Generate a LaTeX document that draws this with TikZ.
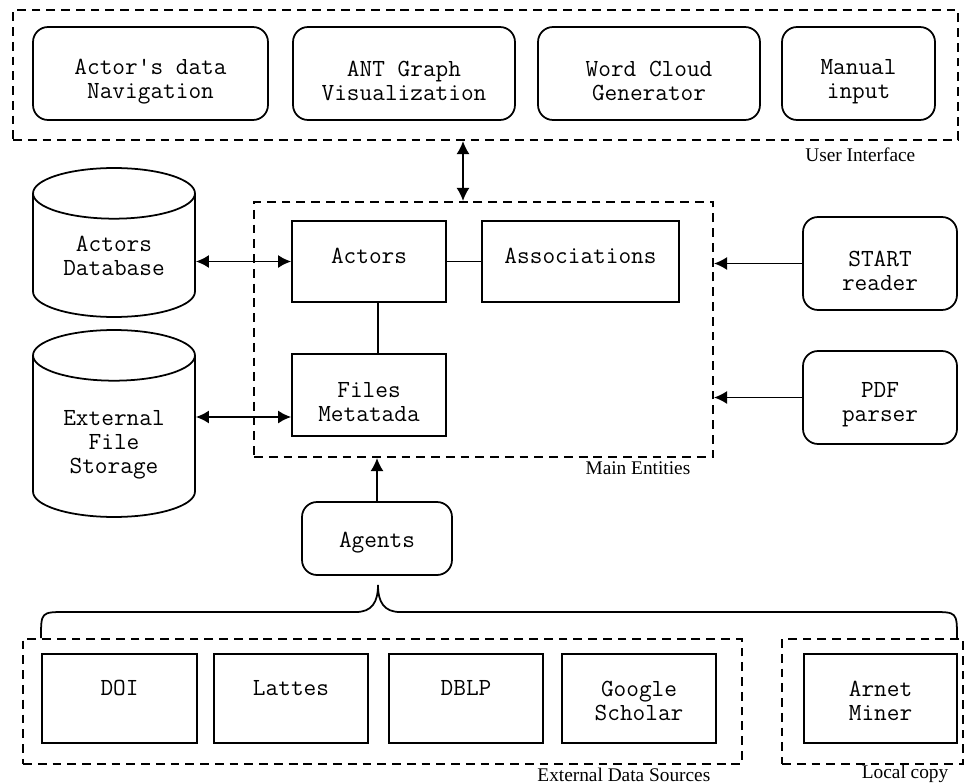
\documentclass[tikz,border=0pt]{standalone}
\usepackage{fontspec}
\setmainfont{Liberation Serif}
\usetikzlibrary{shapes.geometric,arrows.meta}

\begin{document}
\begin{tikzpicture}[x=0.02cm, y=-0.02cm, line width=1pt, >={Latex[length=2.6mm,width=2.6mm]},
    sqbox/.style={draw, font=\ttfamily\fontsize{14}{13.7}\selectfont, align=center, inner sep=0pt},
    rbox/.style={sqbox, rounded corners=0.3cm},
    low/.style={text height=#1},
    dbase/.style={sqbox, cylinder, shape border rotate=90, aspect=0.5, anchor=shape center},
    grp/.style={draw, dash pattern=on 5pt off 3.4pt, line width=1.2pt, inner sep=0pt},
    lbl/.style={font=\fontsize{11}{12}\selectfont, anchor=east}]
        \useasboundingbox (0,0) rectangle (964,784);

        % groups
        \node[grp, minimum width=18.9cm, minimum height=2.6cm] (ui) at (485.5, 75) {};
        \node[grp, minimum width=9.18cm, minimum height=5.1cm] (main) at (483.5, 329.5) {};
        \node[grp, minimum width=14.38cm, minimum height=2.5cm] (ext) at (382.5, 701.5) {};
        \node[grp, minimum width=3.62cm, minimum height=2.5cm] (loc) at (872.5, 701.5) {};
        \node[lbl] at (922, 155) {User Interface};
        \node[lbl] at (697, 468) {Main Entities};
        \node[lbl] at (717, 775) {External Data Sources};
        \node[lbl] at (955, 774) {Local copy};

        % user interface
        \node[rbox, low=1.1cm, minimum width=4.7cm, minimum height=1.86cm] (nav) at (150.5, 73.5) {Actor's data\\Navigation};
        \node[rbox, low=1.1cm, minimum width=4.44cm, minimum height=1.86cm] (ant) at (404, 73.5) {ANT Graph\\Visualization};
        \node[rbox, low=1.1cm, minimum width=4.44cm, minimum height=1.86cm] (cloud) at (649, 73.5) {Word Cloud\\Generator};
        \node[rbox, low=1.1cm, minimum width=3.06cm, minimum height=1.86cm] (manual) at (858.5, 73.5) {Manual\\input};

        % main entities
        \node[sqbox, minimum width=3.08cm, minimum height=1.62cm, text depth=0.22cm] (actors) at (369, 261.5) {Actors};
        \node[sqbox, minimum width=3.94cm, minimum height=1.62cm, text depth=0.22cm] (assoc) at (580.5, 261.5) {Associations};
        \node[sqbox, low=1.05cm, minimum width=3.08cm, minimum height=1.64cm] (files) at (369, 395) {Files\\Metatada};

        % storage
        \node[dbase, minimum width=3.24cm, minimum height=2.98cm] (db) at (114, 242.5) {Actors\\Database};
        \node[dbase, low=1.58cm, minimum width=3.24cm, minimum height=3.74cm] (store) at (114, 423.5) {External\\File\\Storage};

        % readers
        \node[rbox, low=1.08cm, minimum width=3.08cm, minimum height=1.86cm] (start) at (880, 263.5) {START\\reader};
        \node[rbox, low=1.08cm, minimum width=3.08cm, minimum height=1.86cm] (pdf) at (880, 397.5) {PDF\\parser};
        \node[rbox, low=0.47cm, minimum width=3.0cm, minimum height=1.46cm] (agents) at (377, 538.5) {Agents};

        % sources
        \node[sqbox, minimum width=3.1cm, minimum height=1.78cm, text depth=0.42cm] (doi) at (119.5, 698.5) {DOI};
        \node[sqbox, minimum width=3.08cm, minimum height=1.78cm, text depth=0.42cm] (lattes) at (291, 698.5) {Lattes};
        \node[sqbox, minimum width=3.08cm, minimum height=1.78cm, text depth=0.42cm] (dblp) at (466, 698.5) {DBLP};
        \node[sqbox, low=0.88cm, minimum width=3.08cm, minimum height=1.78cm] (google) at (639, 698.5) {Google\\Scholar};
        \node[sqbox, low=0.88cm, minimum width=3.06cm, minimum height=1.78cm] (arnet) at (880.5, 698.5) {Arnet\\Miner};

        \draw[<->] (ui.south -| 463,0) -- (main.north -| 463,0);
        \draw[<->] (db.east |- actors.west) -- (actors.west);
        \draw[<->] (store.east |- 0,417) -- (files.west |- 0,417);
        \draw (actors) -- (assoc);
        \draw ([xshift=0.18cm]actors.south) -- ([xshift=0.18cm]files.north);
        \draw[->] (start.west) -- (start.west -| main.east);
        \draw[->] (pdf.west) -- (pdf.west -| main.east);
        \draw[->] (agents.north) -- (agents.north |- main.south);

        % brace
        \coordinate (bl) at (41, 638);
        \coordinate (bt) at (378, 585);
        \coordinate (br) at (957, 638);
        \draw (bl) .. controls (41, 612) .. (66, 612) -- (356, 612)
            .. controls (372, 612) and (378, 602) .. (bt)
            .. controls (378, 602) and (384, 612) .. (400, 612) -- (932, 612)
            .. controls (957, 612) .. (br);
    \end{tikzpicture}
\end{document}
